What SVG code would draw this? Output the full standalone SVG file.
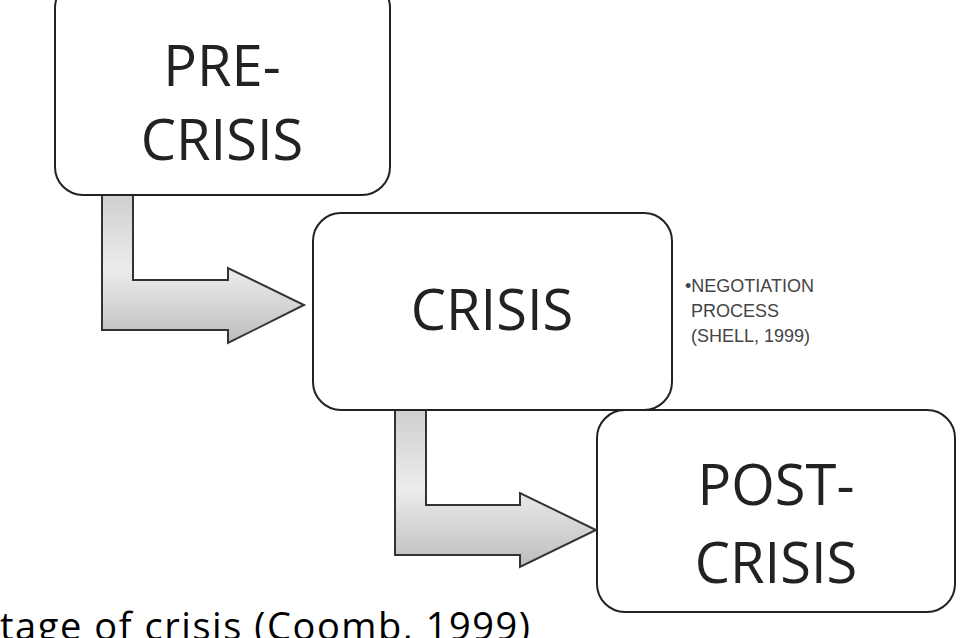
<svg xmlns="http://www.w3.org/2000/svg" width="977" height="638" viewBox="0 0 977 638">
<style>
.box{fill:#fff;stroke:#222;stroke-width:2}
.big{font-family:"Open Sans","Liberation Sans",sans-serif;font-size:56px;fill:#222;text-anchor:middle}
.side{font-family:"Liberation Sans",sans-serif;font-size:18px;fill:#444}
.arr{fill:url(#g);stroke:#333;stroke-width:2;stroke-linejoin:miter}
</style>
<defs>
<linearGradient id="g" x1="0" y1="0" x2="0" y2="1">
<stop offset="0" stop-color="#cfcfcf"/><stop offset="0.5" stop-color="#ececec"/><stop offset="1" stop-color="#bdbdbd"/>
</linearGradient>
</defs>
<rect width="977" height="638" fill="#fff"/>
<g id="connectors">
<path class="arr" d="M102,195 L133,195 L133,280 L228,280 L228,268 L304,305 L228,343 L228,330 L102,330 Z"/>
<path class="arr" d="M395,410 L426,410 L426,505 L520,505 L520,493 L596,530 L520,567 L520,555 L395,555 Z"/>
</g>
<g id="pre"><rect class="box" x="55" y="-20" width="335" height="215" rx="28"/>
<text class="big" x="222" y="86">PRE-</text><text class="big" x="222" y="160">CRISIS</text></g>
<g id="crisis"><rect class="box" x="313" y="213" width="359" height="197" rx="28"/>
<text class="big" x="492" y="330">CRISIS</text></g>
<g id="post"><rect class="box" x="597" y="410" width="358" height="202" rx="28"/>
<text class="big" x="776" y="505">POST-</text><text class="big" x="776" y="583">CRISIS</text></g>
<g id="note"><text class="side" x="685" y="292">•NEGOTIATION</text><text class="side" x="691" y="317">PROCESS</text><text class="side" x="691" y="342">(SHELL, 1999)</text></g>
<text x="0" y="640" font-family="Open Sans,Liberation Sans,sans-serif" font-size="38" fill="#000" textLength="530">tage of crisis (Coomb, 1999)</text>
</svg>
